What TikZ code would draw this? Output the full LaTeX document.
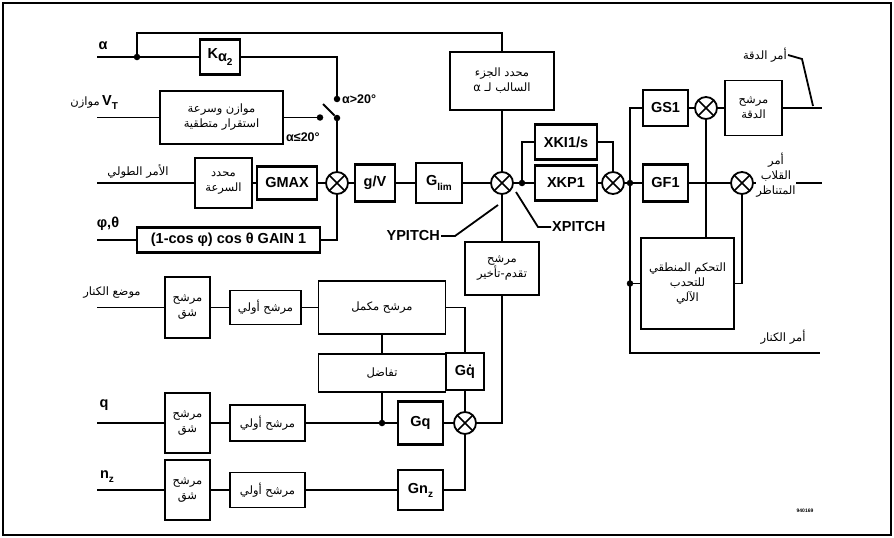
\documentclass[tikz,border=0pt]{standalone}
\usepackage{fontspec}
\setsansfont{Liberation Sans}
\newfontfamily\arabicfont[Script=Arabic]{DejaVu Sans}
\TeXXeTstate=1
\usetikzlibrary{calc}
\newcommand\ar[1]{\beginR #1\endR}
\newcommand\arf{\arabicfont\fontsize{11.5}{15}\selectfont}
\newcommand\lbf{\sffamily\bfseries\fontsize{14.5}{15}\selectfont}
\newcommand\sub[1]{\raisebox{-4pt}{\fontsize{10}{10}\selectfont #1}}
\tikzset{
  blk/.style={draw,line width=1.6pt,inner sep=1pt,align=center,font=\arf},
  gblk/.style={blk,line width=2.2pt,font=\lbf},
  sumj/.style={circle,draw,line width=1.8pt,minimum size=22,inner sep=0pt,
    path picture={\draw[line width=1.5pt]
      (path picture bounding box.north west)--(path picture bounding box.south east)
      (path picture bounding box.north east)--(path picture bounding box.south west);}},
  jdot/.style={circle,fill,inner sep=0pt,minimum size=6.5},
  wire/.style={line width=1.8pt},
  lbl/.style={font=\lbf,inner sep=1pt},
  arlbl/.style={font=\arf,inner sep=1pt,align=center},
}
\begin{document}
\begin{tikzpicture}[x=1pt,y=-1pt]
  \useasboundingbox (0,0) rectangle (894,538);
  \draw[line width=1.6pt] (3,3) rectangle (891,535);

  % upper path: alpha, V_T, longitudinal command, phi/theta
  \node[gblk,minimum width=40,minimum height=35] (ka) at (220,57) {K\raisebox{-3pt}{α\sub{2}}};
  \node[blk,minimum width=123,minimum height=53] (stab) at (221.5,117.5) {\ar{موازن وسرعة}\\\ar{استقرار متطقية}};
  \node[blk,minimum width=57,minimum height=50] (spd) at (223.5,183) {\ar{محدد}\\\ar{السرعة}};
  \node[gblk,minimum width=60,minimum height=33] (gmax) at (287,183) {GMAX};
  \node[sumj] (s1) at (337,183) {};
  \node[gblk,minimum width=40,minimum height=37] (gv) at (375,183) {g/V};
  \node[gblk,minimum width=46,minimum height=40] (glim) at (439,183) {G\raisebox{-1pt}{\sub{lim}}};
  \node[gblk,minimum width=183,minimum height=25] (gain) at (228.5,240) {(1-cos φ) cos θ GAIN 1};
  \node[sumj] (s2) at (502,183) {};
  \node[blk,line width=2.2pt,minimum width=104,minimum height=58] (neg) at (502,81) {\ar{محدد الجزء}\\\ar{السالب لـ α}};
  \node[blk,minimum width=74,minimum height=53] (lead) at (502,268.5) {\ar{مرشح}\\\ar{تقدم-تأخير}};

  % switch
  \node[jdot] (sw1) at (337,99) {};
  \node[jdot] (sw2) at (320,117.5) {};
  \node[jdot] (swp) at (337,118) {};
  \coordinate (swb) at (323,104);

  % pitch loop and outputs
  \node[jdot] (da) at (522,183) {};
  \node[gblk,minimum width=62,minimum height=35] (xki) at (566,142) {XKI1/s};
  \node[gblk,minimum width=62,minimum height=35] (xkp) at (566,183) {XKP1};
  \node[sumj] (s3) at (613,183) {};
  \node[jdot] (db) at (630,183) {};
  \node[gblk,minimum width=45,minimum height=36] (gs) at (665.5,108) {GS1};
  \node[sumj] (s4) at (706,108) {};
  \node[blk,minimum width=57,minimum height=55] (acc) at (753.5,108) {\ar{مرشح}\\\ar{الدقة}};
  \node[gblk,minimum width=45,minimum height=37] (gf) at (665.5,183) {GF1};
  \node[sumj] (s5) at (742,183) {};
  \node[blk,minimum width=93,minimum height=91] (auto) at (687.5,283.5) {\ar{التحكم المنطقي}\\\ar{للتحدب}\\\ar{الآلي}};
  \node[jdot] (dd) at (630,283.5) {};

  % lower path: canard position, q, n_z
  \node[blk,minimum width=45,minimum height=61] (n1) at (187.5,307.5) {\ar{مرشح}\\\ar{شق}};
  \node[blk,minimum width=71,minimum height=34] (p1) at (265.5,307.5) {\ar{مرشح أولي}};
  \node[blk,minimum width=127,minimum height=53] (cmp) at (382,307.5) {\ar{مرشح مكمل}};
  \node[blk,minimum width=127,minimum height=38] (dif) at (382,373) {\ar{تفاضل}};
  \node[gblk,minimum width=38,minimum height=37] (gqd) at (465,371.5) {G\.{q}};
  \node[blk,minimum width=45,minimum height=60] (n2) at (187.5,423) {\ar{مرشح}\\\ar{شق}};
  \node[blk,minimum width=75,minimum height=36] (p2) at (267.5,423) {\ar{مرشح أولي}};
  \node[jdot] (dc) at (382,423) {};
  \node[gblk,minimum width=45,minimum height=43] (gq) at (420.5,423) {Gq};
  \node[sumj] (s6) at (465,423) {};
  \node[blk,minimum width=45,minimum height=60] (n3) at (187.5,490) {\ar{مرشح}\\\ar{شق}};
  \node[blk,minimum width=75,minimum height=35] (p3) at (267.5,490) {\ar{مرشح أولي}};
  \node[gblk,minimum width=45,minimum height=40] (gn) at (420.5,490) {Gn\sub{z}};

  % inputs and free ends
  \coordinate (ina) at (97,57);
  \node[jdot] (dal) at (137,57) {};
  \coordinate (ktop) at (502,33);
  \coordinate (inv) at (97,117.5);
  \coordinate (inl) at (97,183);
  \coordinate (inp) at (97,240);
  \coordinate (inc) at (97,307.5);
  \coordinate (inq) at (97,423);
  \coordinate (inn) at (97,490);
  \coordinate (oacc) at (822,108);
  \coordinate (olat) at (822,183);
  \coordinate (vbot) at (630,353);
  \coordinate (ocan) at (820,353);

  \draw[wire] (dal) |- (ktop) -- (neg.north);
  \draw[wire] (ka.east) -| (sw1);
  \draw[wire] (stab.east) -- (sw2);
  \draw[wire] (swp) -- (swb);
  \draw[wire] (swp) -- (s1.north);
  \draw[wire] (gain.east) -| (s1.south);
  \foreach \a/\b in {ina/dal,dal/ka,inv/stab,inl/spd,inp/gain,spd/gmax,gmax/s1,s1/gv,gv/glim,glim/s2,
    s2/da,da/xkp,xkp/s3,s3/db,db/gf,gf/s5,gs/s4,s4/acc,acc/oacc}
    \draw[wire] (\a) -- (\b);
  \draw[wire] (neg.south) -- (s2.north);
  \draw[wire] (s2.south) -- (lead.north);
  \draw[wire] (lead.south) |- (s6.east);
  \draw[wire] (da) |- (xki.west);
  \draw[wire] (xki.east) -| (s3.north);
  \draw[wire] (gs.west) -| (db);
  \draw[wire] (db) -- (vbot) -- (ocan);
  \draw[wire] (dd) -- (auto.west);
  \draw[wire] (s4.south) -- (s4.south |- auto.north);
  \draw[wire] (s5.south) |- (auto.east);
  \draw[wire] (s5.east) -- (olat);

  \foreach \a/\b in {inc/n1,n1/p1,p1/cmp,inq/n2,n2/p2,p2/dc,dc/gq,gq/s6,inn/n3,n3/p3,p3/gn}
    \draw[wire] (\a) -- (\b);
  \draw[wire] (cmp.south) -- (dif.north);
  \draw[wire] (dif.south) -- (dc);
  \draw[wire] (cmp.east) -| (gqd.north);
  \draw[wire] (gqd.south) -- (s6.north);
  \draw[wire] (gn.east) -| (s6.south);

  % labels
  \node[lbl] (lal) at (103,46) {α};
  \node[lbl] (lvt) at (110,103) {V\sub{T}};
  \node[arlbl,anchor=east] (lmz) at (lvt.west) {\ar{موازن}};
  \node[lbl,anchor=west,font=\sffamily\bfseries\fontsize{12.5}{12}\selectfont] (lgt) at (341,99) {α>20°};
  \node[lbl,anchor=west,font=\sffamily\bfseries\fontsize{12.5}{12}\selectfont] (lle) at (285,137) {α≤20°};
  \node[arlbl] (llong) at (138,171) {\ar{الأمر الطولي}};
  \node[lbl] (lpt) at (108,224) {φ,θ};
  \node[arlbl] (lcan) at (112,293) {\ar{موضع الكنار}};
  \node[lbl] (lq) at (104,405) {q};
  \node[lbl] (lnz) at (107,477) {n\sub{z}};

  \node[lbl,anchor=east] (yp) at (441,236) {YPITCH};
  \coordinate (yk) at (455,236);
  \coordinate (yt) at (498,205);
  \draw[wire] (yp.east) -- (yk) -- (yt);
  \node[lbl,anchor=west] (xp) at (551,227) {XPITCH};
  \coordinate (xk) at (538,227);
  \coordinate (xt) at (516,192);
  \draw[wire] (xp.west) -- (xk) -- (xt);

  \node[arlbl,anchor=east] (lacc) at (788,55) {\ar{أمر الدقة}};
  \coordinate (ak) at (802,59);
  \coordinate (ab) at (813,106);
  \draw[wire] (lacc.east) -- (ak) -- (ab);
  \node[arlbl,fill=white,inner sep=0pt] (llat) at (776,175) {\ar{أمر}\\\ar{القلاب}\\\ar{المتناظر}};
  \node[arlbl] (lcmd) at (783,337) {\ar{أمر الكنار}};
  \node[font=\sffamily\bfseries\fontsize{5}{5}\selectfont] (fig) at (805,511) {940169};
\end{tikzpicture}
\end{document}
